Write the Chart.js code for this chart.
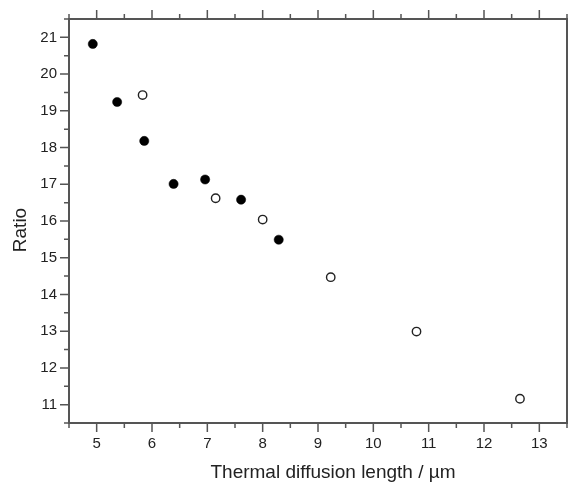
<!DOCTYPE html>
<html>
<head>
<meta charset="utf-8">
<script src="https://cdn.jsdelivr.net/npm/chart.js@4.4.1/dist/chart.umd.min.js"></script>
<style>
  html, body { margin: 0; padding: 0; background: #fff; }
  #wrap { width: 568px; height: 483px; }
</style>
</head>
<body>
<div id="wrap"><canvas id="chart"></canvas></div>
<script>
// Filled circles
const filledX = [4.93, 5.37, 5.86, 6.39, 6.96, 7.61, 8.29];
const filledY = [20.82, 19.24, 18.18, 17.01, 17.13, 16.58, 15.49];
// Open circles
const openX = [5.83, 7.15, 8.0, 9.23, 10.78, 12.65];
const openY = [19.43, 16.62, 16.04, 14.47, 12.99, 11.16];

const xTitle = 'Thermal diffusion length / \u00b5m';
const yTitle = 'Ratio';

const axisColor = '#555';
const textColor = '#222';
const fontFamily = '"Liberation Sans", Arial, Helvetica, sans-serif';

const toPoints = (xs, ys) => xs.map((x, i) => ({ x: x, y: ys[i] }));

// frame, major/minor ticks on all four sides, and the two axis titles
const frameTicks = {
  id: 'frameTicks',
  afterDraw(chart) {
    const { ctx, chartArea: a, scales } = chart;
    ctx.save();
    ctx.strokeStyle = axisColor;
    ctx.lineWidth = 2;
    ctx.strokeRect(a.left, a.top, a.right - a.left, a.bottom - a.top);
    ctx.lineWidth = 1.5;
    ctx.beginPath();
    scales.x.ticks.forEach(t => {
      const px = scales.x.getPixelForValue(t.value);
      const len = Number.isInteger(t.value) ? 9 : 5;
      ctx.moveTo(px, a.bottom); ctx.lineTo(px, a.bottom + len);
      ctx.moveTo(px, a.top); ctx.lineTo(px, a.top - len);
    });
    scales.y.ticks.forEach(t => {
      const py = scales.y.getPixelForValue(t.value);
      const len = Number.isInteger(t.value) ? 9 : 5;
      ctx.moveTo(a.left, py); ctx.lineTo(a.left - len, py);
      ctx.moveTo(a.right, py); ctx.lineTo(a.right + len, py);
    });
    ctx.stroke();

    // axis titles (placed a little off-centre, as in the original)
    ctx.fillStyle = textColor;
    ctx.font = '19px ' + fontFamily;
    ctx.textAlign = 'center';
    ctx.textBaseline = 'alphabetic';
    ctx.fillText(xTitle, 333, 478);
    ctx.translate(26, 230);
    ctx.rotate(-Math.PI / 2);
    ctx.fillText(yTitle, 0, 0);
    ctx.restore();
  }
};

new Chart(document.getElementById('chart'), {
  type: 'scatter',
  data: {
    datasets: [
      {
        label: 'filled',
        data: toPoints(filledX, filledY),
        pointRadius: 4.6,
        pointBackgroundColor: '#000',
        pointBorderColor: '#000',
        pointBorderWidth: 0.5
      },
      {
        label: 'open',
        data: toPoints(openX, openY),
        pointRadius: 4.2,
        pointBackgroundColor: '#fff',
        pointBorderColor: '#222',
        pointBorderWidth: 1.4
      }
    ]
  },
  options: {
    responsive: true,
    maintainAspectRatio: false,
    animation: false,
    layout: { autoPadding: false, padding: { left: 4, right: 1, top: 0, bottom: 0 } },
    plugins: { legend: { display: false }, tooltip: { enabled: false } },
    scales: {
      x: {
        type: 'linear',
        min: 4.5,
        max: 13.5,
        ticks: {
          stepSize: 0.5,
          autoSkip: false,
          maxRotation: 0,
          padding: 3,
          color: textColor,
          font: { family: fontFamily, size: 15 },
          callback: v => Number.isInteger(v) ? String(v) : ''
        },
        grid: { drawOnChartArea: false, tickLength: 9, tickColor: 'rgba(0,0,0,0)' },
        border: { display: false },
        afterFit: s => { s.height = 60; s.paddingLeft = 0; s.paddingRight = 0; }
      },
      x2: {
        type: 'linear',
        position: 'top',
        min: 4.5,
        max: 13.5,
        ticks: { display: false },
        grid: { display: false },
        border: { display: false },
        afterFit: s => { s.height = 19; s.paddingLeft = 0; s.paddingRight = 0; }
      },
      y: {
        type: 'linear',
        min: 10.5,
        max: 21.5,
        ticks: {
          stepSize: 0.5,
          autoSkip: false,
          padding: 3,
          color: textColor,
          font: { family: fontFamily, size: 15 },
          callback: v => Number.isInteger(v) ? String(v) : ''
        },
        grid: { drawOnChartArea: false, tickLength: 9, tickColor: 'rgba(0,0,0,0)' },
        border: { display: false },
        afterFit: s => { s.width = 65; }
      }
    }
  },
  plugins: [frameTicks]
});
</script>
</body>
</html>
